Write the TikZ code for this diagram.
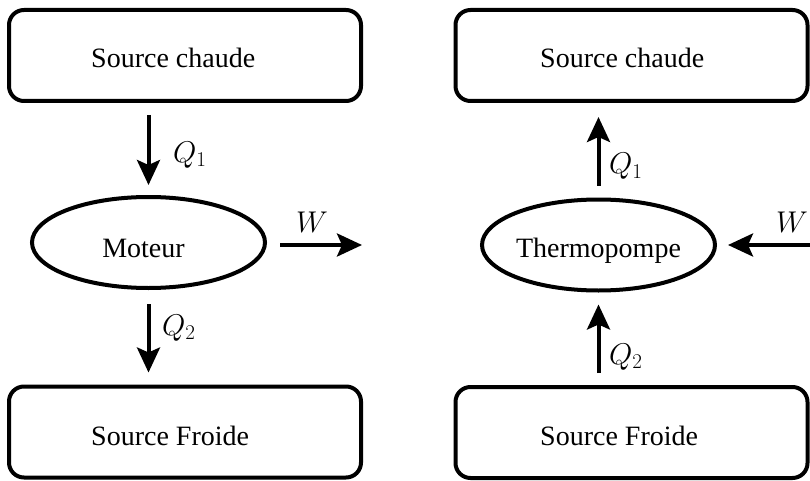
\RequirePackage{fix-cm}
\documentclass[tikz,border=0pt]{standalone}
\usepackage{fontspec}
\setmainfont{Liberation Serif}
\usetikzlibrary{arrows.meta,shapes.geometric}
\begin{document}
\begin{tikzpicture}[x=1pt,y=-1pt,
  font=\fontsize{28}{34}\selectfont,
  box/.style={draw, line width=4pt, rounded corners=15pt, minimum width=352pt, minimum height=91pt, inner sep=0pt},
  oval/.style={draw, ellipse, line width=4pt, minimum width=233pt, minimum height=91pt, inner sep=0pt},
  flow/.style={line width=4pt, -{Stealth[length=25pt,width=23pt,inset=5pt]}},
  txt/.style={inner sep=0pt},
  lbl/.style={inner sep=0pt, anchor=base west, font=\fontsize{30}{36}\selectfont}]
\useasboundingbox (0,0) rectangle (810,481);
\clip (0,0) rectangle (810,481);
% left: moteur
\node[box] (sc1) at (185,55.5) {};
\node[box] (sf1) at (185,432) {};
\node[oval] (mot) at (148.5,242.5) {};
\node[txt, anchor=base west] (tsc1) at (91,68) {Source chaude};
\node[txt, anchor=base west] (tsf1) at (91,445) {Source Froide};
\node[txt, anchor=base] (tmot) at (143.5,257) {Moteur};
\coordinate (w1) at (362,245);
\draw[flow, shorten <=12pt, shorten >=10pt] (mot.north |- sc1.south) -- (mot.north);
\draw[flow, shorten <=14pt, shorten >=12pt] (mot.south) -- (mot.south |- sf1.north);
\draw[flow, shorten <=13pt] (mot.east |- w1) -- (w1);
\node[lbl] (q1a) at (173,162) {$Q_1$};
\node[lbl] (q2a) at (162,335) {$Q_2$};
\node[lbl] (wa) at (296,232) {$W$};
% right: thermopompe
\node[box] (sc2) at (631.5,55.5) {};
\node[box] (sf2) at (631.5,432.5) {};
\node[oval] (th) at (598.5,245) {};
\node[txt, anchor=base west] (tsc2) at (540,68) {Source chaude};
\node[txt, anchor=base west] (tsf2) at (540,445) {Source Froide};
\node[txt, anchor=base] (tth) at (598.5,257) {Thermopompe};
\coordinate (w2) at (840,245);
\draw[flow, shorten <=12pt, shorten >=14pt] (th.north) -- (th.north |- sc2.south);
\draw[flow, shorten <=12pt, shorten >=12pt] (th.south |- sf2.north) -- (th.south);
\draw[flow, shorten >=11pt] (w2) -- (th.east |- w2);
\node[lbl] (q1b) at (609,174) {$Q_1$};
\node[lbl] (q2b) at (609,364) {$Q_2$};
\node[lbl] (wb) at (776,232) {$W$};
\end{tikzpicture}
\end{document}
